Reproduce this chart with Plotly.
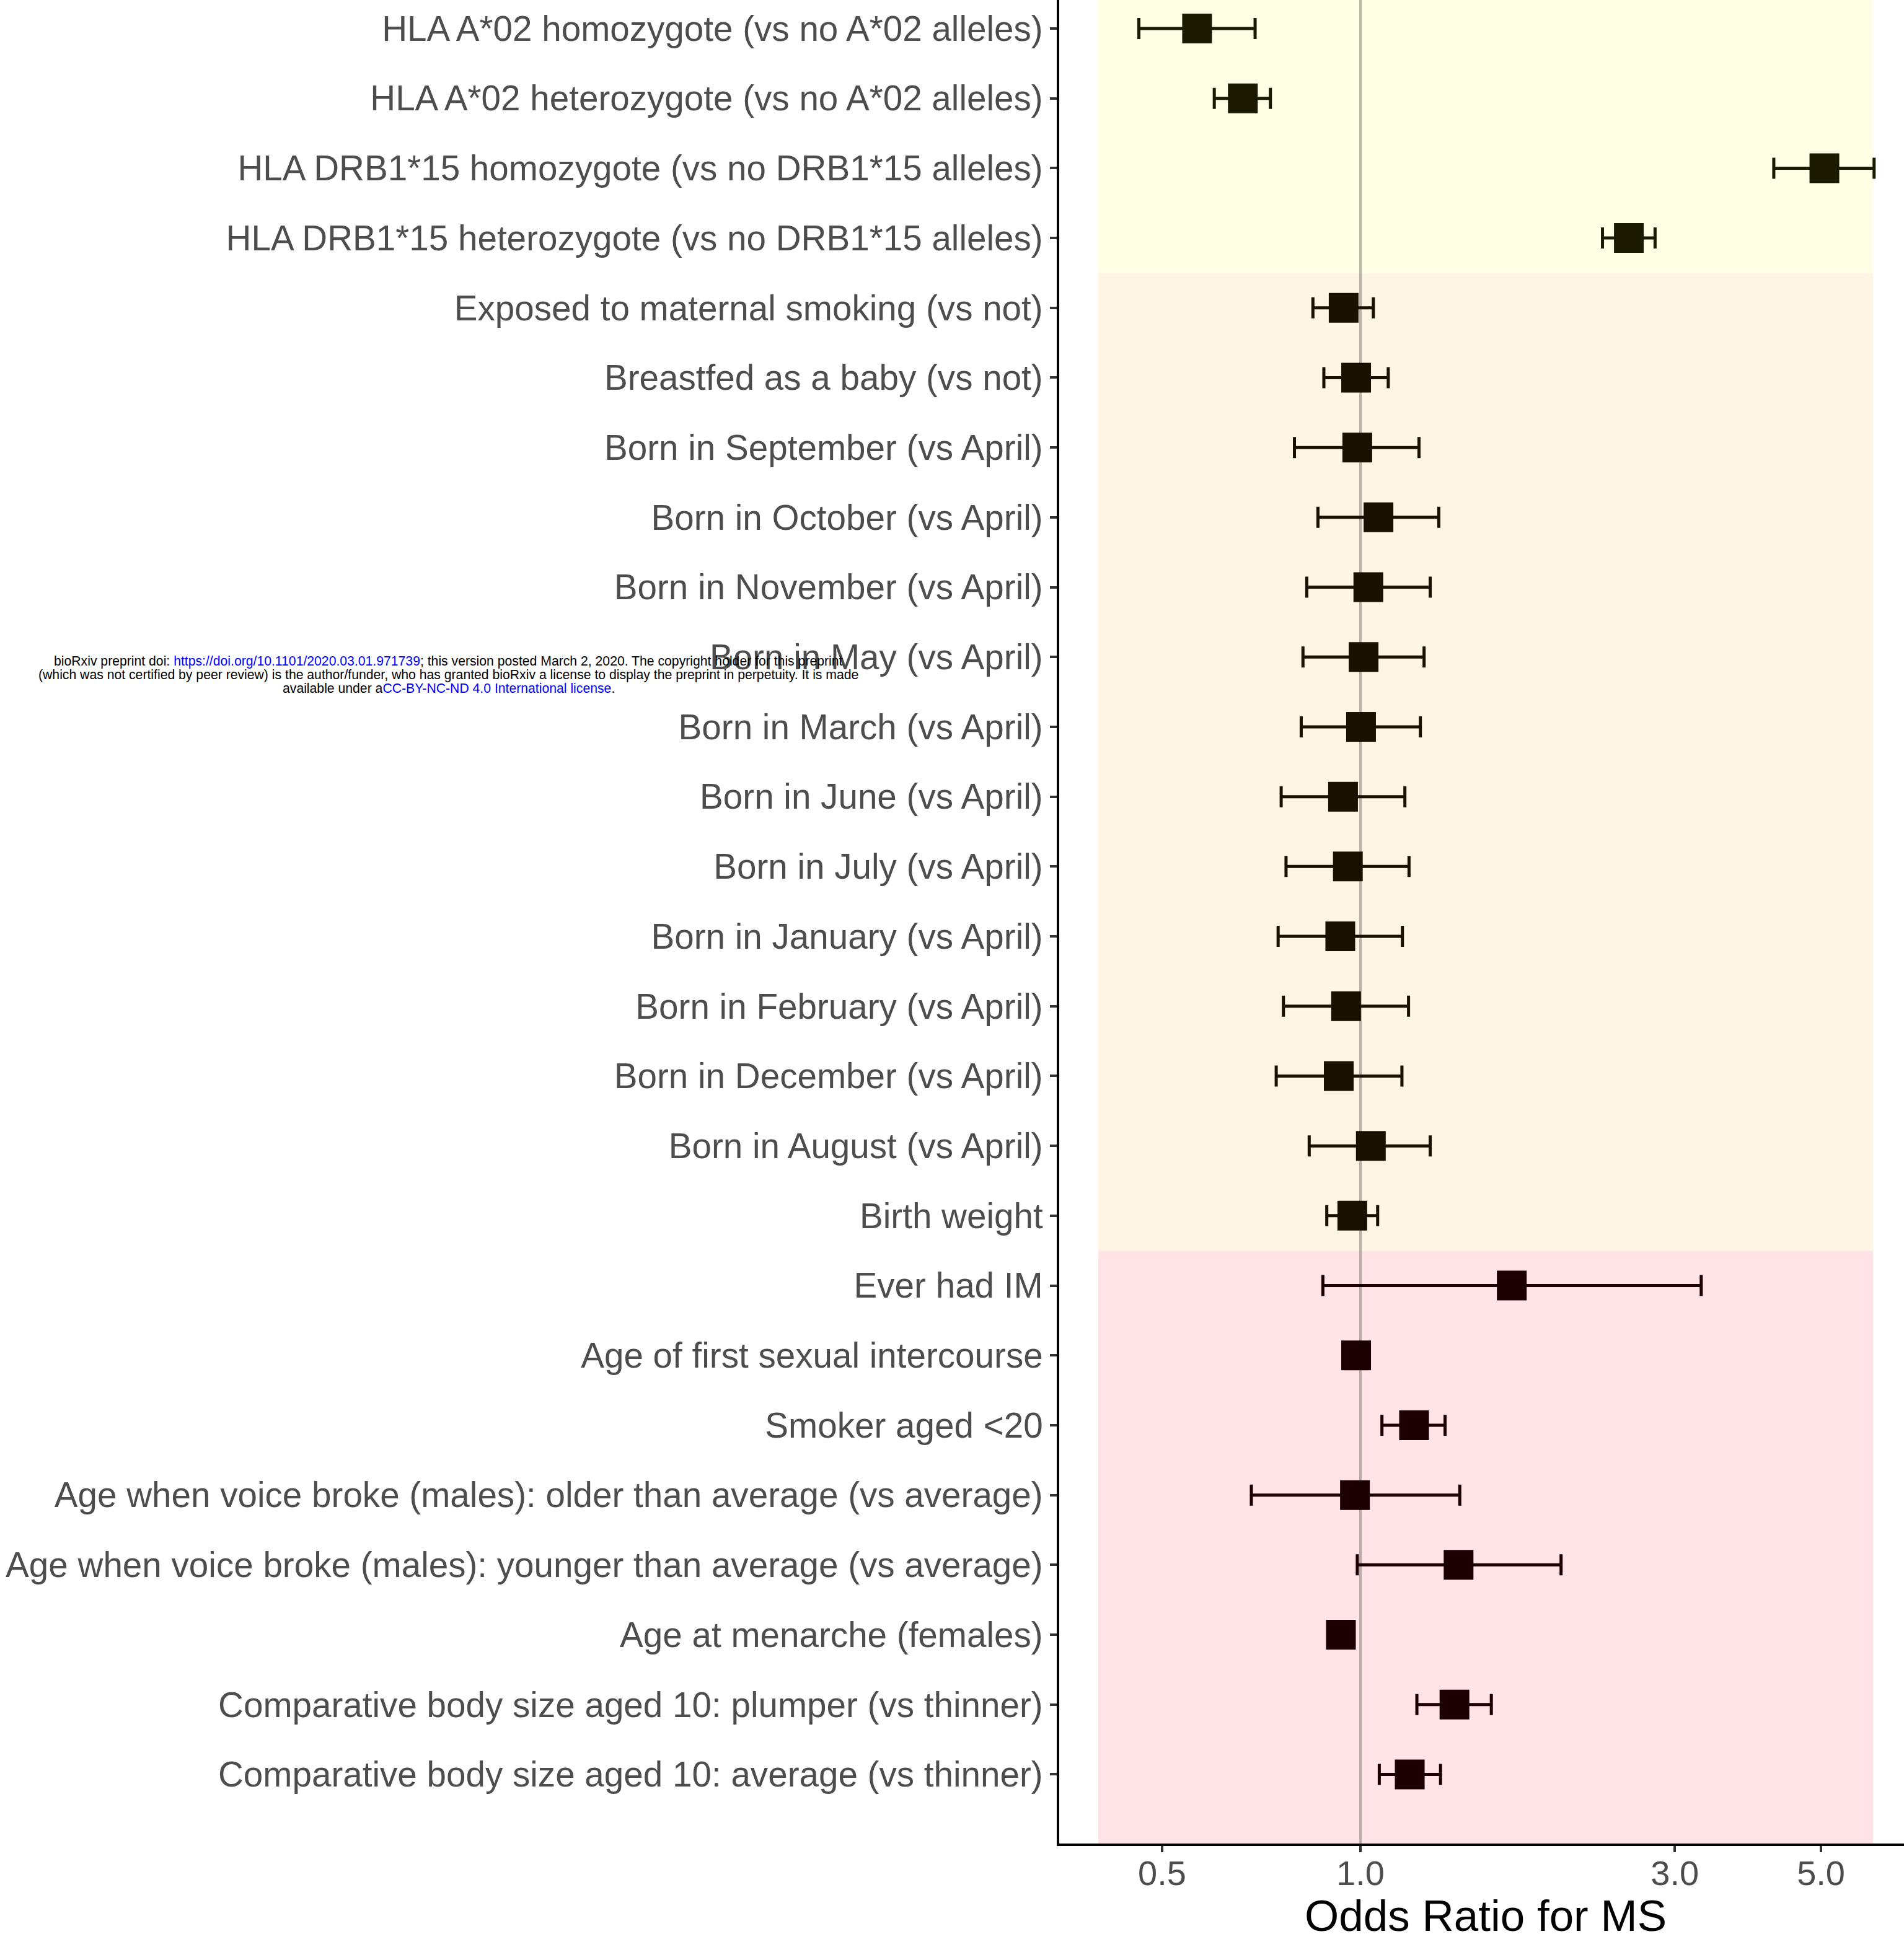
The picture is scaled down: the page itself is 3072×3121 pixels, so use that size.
import math
import plotly.graph_objects as go

# Risk factors, listed top to bottom as they appear on the y axis
labels = [
    "HLA A*02 homozygote (vs no A*02 alleles)",
    "HLA A*02 heterozygote (vs no A*02 alleles)",
    "HLA DRB1*15 homozygote (vs no DRB1*15 alleles)",
    "HLA DRB1*15 heterozygote (vs no DRB1*15 alleles)",
    "Exposed to maternal smoking (vs not)",
    "Breastfed as a baby (vs not)",
    "Born in September (vs April)",
    "Born in October (vs April)",
    "Born in November (vs April)",
    "Born in May (vs April)",
    "Born in March (vs April)",
    "Born in June (vs April)",
    "Born in July (vs April)",
    "Born in January (vs April)",
    "Born in February (vs April)",
    "Born in December (vs April)",
    "Born in August (vs April)",
    "Birth weight",
    "Ever had IM",
    "Age of first sexual intercourse",
    "Smoker aged <20",
    "Age when voice broke (males): older than average (vs average)",
    "Age when voice broke (males): younger than average (vs average)",
    "Age at menarche (females)",
    "Comparative body size aged 10: plumper (vs thinner)",
    "Comparative body size aged 10: average (vs thinner)",
]

odds_ratio = [0.565, 0.663, 5.06, 2.555,
              0.943, 0.985, 0.989, 1.065, 1.028, 1.011, 1.002, 0.941, 0.957,
              0.932, 0.951, 0.927, 1.037, 0.972,
              1.697, 0.985, 1.206, 0.981, 1.409, 0.934, 1.389, 1.188]
ci_low = [0.461, 0.600, 4.24, 2.33,
          0.847, 0.880, 0.794, 0.862, 0.829, 0.818, 0.813, 0.758, 0.771,
          0.750, 0.764, 0.745, 0.836, 0.889,
          0.877, 0.965, 1.078, 0.683, 0.989, 0.915, 1.218, 1.068]
ci_high = [0.692, 0.730, 6.02, 2.80,
           1.046, 1.102, 1.227, 1.315, 1.276, 1.249, 1.233, 1.168, 1.185,
           1.158, 1.183, 1.156, 1.276, 1.062,
           3.29, 1.005, 1.344, 1.415, 2.016, 0.953, 1.58, 1.323]
group = ["genetic"] * 4 + ["early"] * 14 + ["later"] * 8

group_order = ["genetic", "early", "later"]
band_colors = {"genetic": "#FFFFE6", "early": "#FFF5E4", "later": "#FFE3E6"}
point_colors = {"genetic": "#1B1A00", "early": "#1B1100", "later": "#1A0000"}

n = len(labels)
pos = [n - 1 - i for i in range(n)]  # first label at the top

FONT = "Liberation Sans, Arial, Helvetica, sans-serif"
BAND_X = (0.4, 6.0)

fig = go.Figure()

# shaded band behind each group of rows
for gi, g in enumerate(group_order):
    gp = [p for p, gg in zip(pos, group) if gg == g]
    lo, hi = min(gp) - 0.5, max(gp) + 0.5
    if gi == 0:
        hi = 40
    if gi == len(group_order) - 1:
        lo = -10
    fig.add_trace(go.Scatter(
        x=[BAND_X[0], BAND_X[1], BAND_X[1], BAND_X[0], BAND_X[0]],
        y=[lo, lo, hi, hi, lo],
        mode="lines", fill="toself", fillcolor=band_colors[g],
        line=dict(width=0), hoverinfo="skip", showlegend=False))

# reference line at OR = 1
fig.add_trace(go.Scatter(
    x=[1, 1], y=[-10, 40], mode="lines",
    line=dict(color="rgba(115,115,105,0.5)", width=4),
    hoverinfo="skip", showlegend=False))

# point estimates with confidence intervals
for g in group_order:
    idx = [i for i in range(n) if group[i] == g]
    fig.add_trace(go.Scatter(
        x=[odds_ratio[i] for i in idx],
        y=[pos[i] for i in idx],
        mode="markers",
        marker=dict(symbol="square", size=48, color=point_colors[g],
                    line=dict(width=0)),
        error_x=dict(type="data", symmetric=False,
                     array=[ci_high[i] - odds_ratio[i] for i in idx],
                     arrayminus=[odds_ratio[i] - ci_low[i] for i in idx],
                     color=point_colors[g], thickness=5, width=17),
        hoverinfo="skip", showlegend=False))

fig.update_layout(
    width=3072, height=3121,
    margin=dict(l=1709, r=0, t=0, b=146, pad=0, autoexpand=False),
    paper_bgcolor="white", plot_bgcolor="white",
    font=dict(family=FONT),
    xaxis=dict(
        type="log",
        range=[math.log10(0.349), math.log10(6.683)],
        tickvals=[0.5, 1, 3, 5], ticktext=["0.5", "1.0", "3.0", "5.0"],
        ticks="outside", ticklen=10, tickwidth=4, tickcolor="#333333",
        showline=True, linecolor="black", linewidth=4,
        showgrid=False, zeroline=False, automargin=False,
        tickfont=dict(size=56, color="#4D4D4D", family=FONT),
        ticklabelstandoff=-14,
    ),
    yaxis=dict(
        range=[-0.99, 25.408],
        tickvals=pos, ticktext=labels,
        ticks="outside", ticklen=11, tickwidth=4, tickcolor="#333333",
        showline=True, linecolor="black", linewidth=4,
        showgrid=False, zeroline=False, automargin=False,
        tickfont=dict(size=56.6, color="#4D4D4D", family=FONT),
        ticklabelstandoff=0,
    ),
)

# x axis title, set below the tick labels
fig.add_annotation(text="Odds Ratio for MS", xref="paper", yref="paper",
                   x=0.505, y=-0.0393, xanchor="center", yanchor="middle",
                   showarrow=False,
                   font=dict(size=71, color="black", family=FONT))

# preprint notice
notice = [
    "bioRxiv preprint doi: <span style='color:#0000FF'>https://doi.org/10.1101/2020.03.01.971739</span>; "
    "this version posted March 2, 2020. The copyright holder for this preprint",
    "(which was not certified by peer review) is the author/funder, who has granted bioRxiv "
    "a license to display the preprint in perpetuity. It is made",
    "available under a<span style='color:#0000FF'>CC-BY-NC-ND 4.0 International license</span>.",
]
for line, yp in zip(notice, [0.6413, 0.6339, 0.6266]):
    fig.add_annotation(text=line, xref="paper", yref="paper", x=-0.7230, y=yp,
                       xanchor="center", yanchor="middle", showarrow=False,
                       font=dict(size=21.2, color="black", family=FONT))

fig.write_html("out.html")
